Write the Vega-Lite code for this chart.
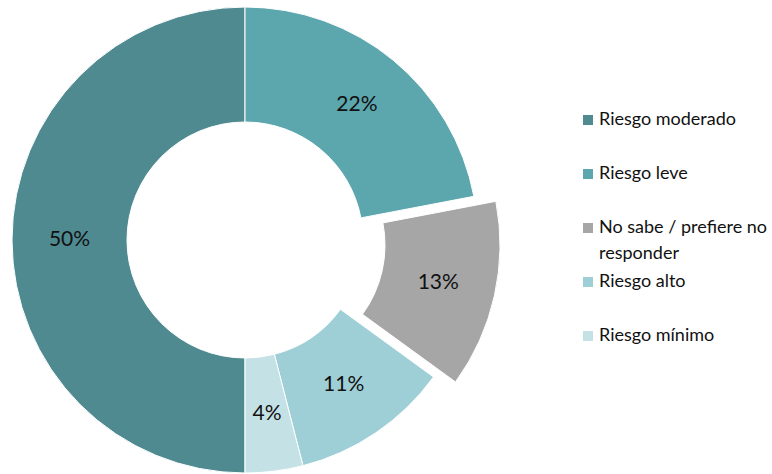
{
  "$schema": "https://vega.github.io/schema/vega-lite/v6.json",
  "width": 490,
  "height": 480,
  "padding": {"left": 0, "top": 0, "right": 282, "bottom": 0},
  "autosize": {"type": "none"},
  "background": "white",
  "config": {"view": {"stroke": null}, "style": {"guide-label": {"lineHeight": 26}}},
  "data": {
    "values": [
      {"cat": "Riesgo moderado", "pct": 0.50},
      {"cat": "Riesgo leve", "pct": 0.22},
      {"cat": "No sabe / prefiere no responder", "pct": 0.13},
      {"cat": "Riesgo alto", "pct": 0.11},
      {"cat": "Riesgo mínimo", "pct": 0.04}
    ]
  },
  "encoding": {
    "theta": {"field": "pct", "type": "quantitative", "stack": true, "scale": {"range": [3.14159265, 9.42477796]}},
    "order": {"field": "pct", "type": "quantitative", "sort": "descending"}
  },
  "layer": [
    {
      "mark": {
        "type": "arc",
        "outerRadius": 233,
        "innerRadius": 118,
        "stroke": "white",
        "strokeWidth": 1,
        "xOffset": {"expr": "datum.cat == 'No sabe / prefiere no responder' ? 22 : 0"},
        "yOffset": {"expr": "datum.cat == 'No sabe / prefiere no responder' ? 5 : 0"}
      },
      "encoding": {
        "color": {
          "field": "cat",
          "type": "nominal",
          "sort": ["Riesgo moderado", "Riesgo leve", "No sabe / prefiere no responder", "Riesgo alto", "Riesgo mínimo"],
          "scale": {
            "domain": ["Riesgo moderado", "Riesgo leve", "No sabe / prefiere no responder", "Riesgo alto", "Riesgo mínimo"],
            "range": ["#4f8a91", "#5ca6ae", "#a6a6a6", "#9ecfd6", "#c4e2e6"]
          },
          "legend": {
            "orient": "none",
            "legendX": 579,
            "legendY": 111,
            "title": null,
            "padding": 0,
            "symbolType": "square",
            "symbolSize": 100,
            "symbolStrokeWidth": 0,
            "labelFont": "Lato",
            "labelFontSize": 18,
            "labelColor": "#111111",
            "labelOffset": 2,
            "labelLimit": 300,
            "rowPadding": 10,
            "labelExpr": "datum.label == 'No sabe / prefiere no responder' ? ['No sabe / prefiere no', 'responder'] : [datum.label, '']",
            "encode": {
              "labels": {
                "update": {
                  "lineHeight": {"value": 26},
                  "dy": {"value": 13}
                }
              }
            }
          }
        }
      }
    },
    {
      "mark": {
        "type": "text",
        "radius": 175.5,
        "font": "Lato",
        "fontSize": 21,
        "color": "#111111",
        "xOffset": {"expr": "datum.cat == 'No sabe / prefiere no responder' ? 22 : 0"},
        "yOffset": {"expr": "datum.cat == 'No sabe / prefiere no responder' ? 5 : 0"}
      },
      "encoding": {
        "text": {"field": "pct", "type": "quantitative", "format": ".0%"}
      }
    }
  ]
}
